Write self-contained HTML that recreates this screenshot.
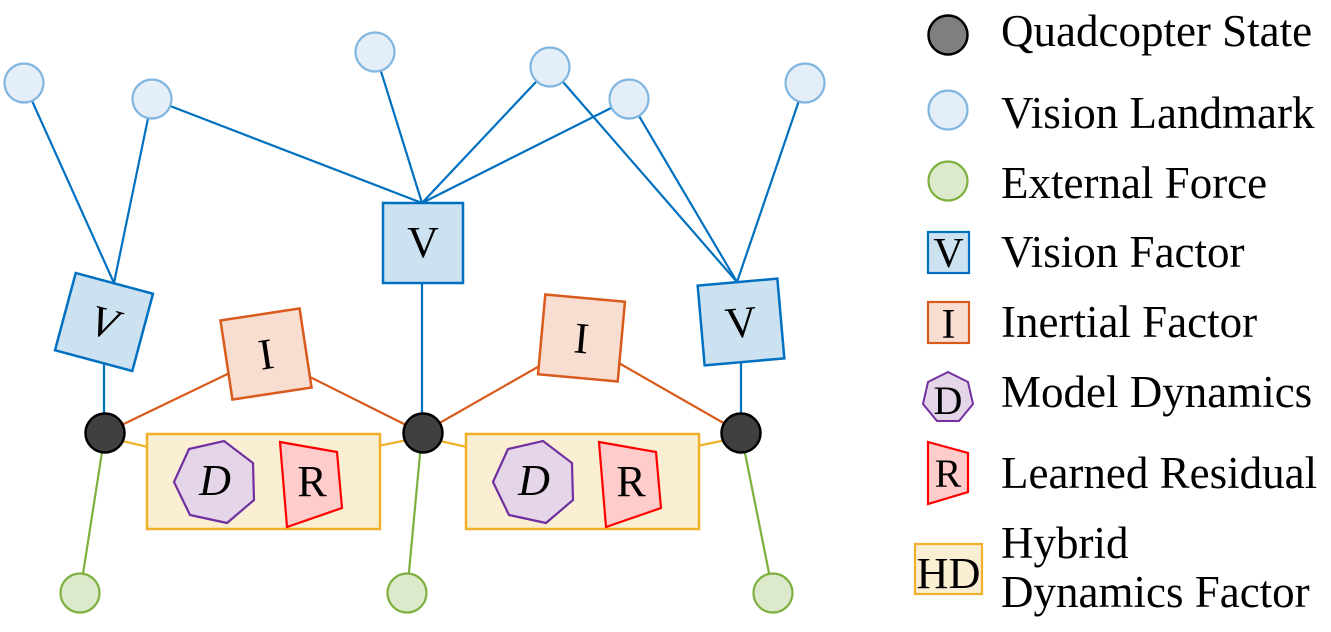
<!DOCTYPE html>
<html>
<head>
<meta charset="utf-8">
<style>
  html,body{margin:0;padding:0;background:#fff;}
  svg{display:block;font-family:"Liberation Serif","Times New Roman",Tinos,"Nimbus Roman","DejaVu Serif",serif;}
  svg text{font-family:"Liberation Serif","Times New Roman",Tinos,"Nimbus Roman","DejaVu Serif",serif;fill:#000;}
</style>
</head>
<body>
<svg width="1331" height="632" viewBox="0 0 1331 632" xmlns="http://www.w3.org/2000/svg" font-family="Liberation Serif, Times New Roman, DejaVu Serif, serif">
  <!-- Blue vision lines -->
  <g stroke="#0070c0" stroke-width="2.2" fill="none">
    <line x1="24" y1="83" x2="114" y2="283"/>
    <line x1="152" y1="99" x2="114" y2="283"/>
    <line x1="152" y1="99" x2="422" y2="203"/>
    <line x1="375" y1="52" x2="422" y2="203"/>
    <line x1="550" y1="67" x2="422" y2="203"/>
    <line x1="629" y1="99" x2="422" y2="203"/>
    <line x1="550" y1="67" x2="737" y2="282"/>
    <line x1="629" y1="99" x2="737" y2="282"/>
    <line x1="805" y1="83" x2="737" y2="282"/>
    <line x1="104" y1="360" x2="104" y2="433"/>
    <line x1="422" y1="283" x2="422" y2="433"/>
    <line x1="741" y1="360" x2="741" y2="433"/>
  </g>
  <!-- Orange inertial lines -->
  <g stroke="#d95a1d" stroke-width="2.2">
    <line x1="105" y1="433" x2="240" y2="368"/>
    <line x1="300" y1="372" x2="422" y2="433"/>
    <line x1="422" y1="433" x2="550" y2="360"/>
    <line x1="610" y1="358" x2="741" y2="433"/>
  </g>
  <!-- Yellow HD lines -->
  <g stroke="#f0b02a" stroke-width="2.2">
    <line x1="105" y1="437" x2="148" y2="447"/>
    <line x1="378" y1="446" x2="422" y2="437"/>
    <line x1="422" y1="437" x2="467" y2="447"/>
    <line x1="697" y1="446" x2="741" y2="437"/>
  </g>
  <!-- Green lines -->
  <g stroke="#7eb040" stroke-width="2.2">
    <line x1="105" y1="433" x2="80" y2="593"/>
    <line x1="422" y1="433" x2="407" y2="593"/>
    <line x1="741" y1="433" x2="773" y2="593"/>
  </g>

  <!-- Landmarks -->
  <g fill="#e3eef8" stroke="#80b6e0" stroke-width="2.2">
    <circle cx="24" cy="83" r="19.5"/>
    <circle cx="152" cy="99" r="19.5"/>
    <circle cx="375" cy="52" r="19.5"/>
    <circle cx="550" cy="67" r="19.5"/>
    <circle cx="629" cy="99" r="19.5"/>
    <circle cx="805" cy="83" r="19.5"/>
  </g>

  <!-- Vision factors -->
  <g transform="translate(104,322) rotate(15)">
    <rect x="-40" y="-40" width="80" height="80" fill="#cde2f1" stroke="#0070c0" stroke-width="2.5"/>
    <text x="0" y="15" font-size="44" font-style="italic" text-anchor="middle">V</text>
  </g>
  <g>
    <rect x="383" y="203" width="80" height="80" fill="#cde2f1" stroke="#0070c0" stroke-width="2.5"/>
    <text x="423" y="257" font-size="44" text-anchor="middle">V</text>
  </g>
  <g transform="translate(741,322) rotate(-5)">
    <rect x="-40" y="-40" width="80" height="80" fill="#cde2f1" stroke="#0070c0" stroke-width="2.5"/>
    <text x="0" y="15" font-size="44" text-anchor="middle">V</text>
  </g>

  <!-- Inertial factors -->
  <g transform="translate(266,354) rotate(-8.6)">
    <rect x="-40" y="-40" width="80" height="80" fill="#f8ddd1" stroke="#d95a1d" stroke-width="2.5"/>
    <text x="0" y="15" font-size="44" text-anchor="middle">I</text>
  </g>
  <g transform="translate(581.5,338) rotate(5.2)">
    <rect x="-40" y="-40" width="80" height="80" fill="#f8ddd1" stroke="#d95a1d" stroke-width="2.5"/>
    <text x="0" y="15" font-size="44" text-anchor="middle">I</text>
  </g>

  <!-- HD boxes -->
  <rect x="147" y="434" width="233" height="95" fill="#fbefd3" stroke="#f0b02a" stroke-width="2.5"/>
  <rect x="466" y="434" width="233" height="95" fill="#fbefd3" stroke="#f0b02a" stroke-width="2.5"/>

  <!-- Heptagons -->
  <polygon points="224,441 253,463 254,500 227,523 190,515 174,482 189,449" fill="#e4d5e8" stroke="#7030a0" stroke-width="2.2"/>
  <text x="215" y="495" font-size="44" font-style="italic" text-anchor="middle">D</text>
  <polygon points="543,441 572,463 573,500 546,523 509,515 493,482 508,449" fill="#e4d5e8" stroke="#7030a0" stroke-width="2.2"/>
  <text x="534" y="495" font-size="44" font-style="italic" text-anchor="middle">D</text>

  <!-- Residuals -->
  <polygon points="280,442 337,452 342,508 287,527" fill="#ffcccc" stroke="#ff0000" stroke-width="2.2"/>
  <text x="312" y="496" font-size="44" text-anchor="middle">R</text>
  <polygon points="599,442 656,452 661,508 606,527" fill="#ffcccc" stroke="#ff0000" stroke-width="2.2"/>
  <text x="631" y="496" font-size="44" text-anchor="middle">R</text>

  <!-- States -->
  <g fill="#404040" stroke="#000" stroke-width="2.5">
    <circle cx="105" cy="433" r="19.5"/>
    <circle cx="423" cy="433" r="19.5"/>
    <circle cx="741" cy="433" r="19.5"/>
  </g>

  <!-- External forces -->
  <g fill="#dde9cb" stroke="#7eb040" stroke-width="2.2">
    <circle cx="80" cy="593" r="19.5"/>
    <circle cx="407" cy="593" r="19.5"/>
    <circle cx="773" cy="593" r="19.5"/>
  </g>

  <!-- Legend -->
  <circle cx="948" cy="35" r="19.5" fill="#7f7f7f" stroke="#000" stroke-width="2.5"/>
  <circle cx="948" cy="110" r="19.5" fill="#e3eef8" stroke="#80b6e0" stroke-width="2.2"/>
  <circle cx="948" cy="181" r="19.5" fill="#dde9cb" stroke="#7eb040" stroke-width="2.2"/>
  <rect x="928" y="232" width="41" height="41" fill="#cde2f1" stroke="#0070c0" stroke-width="2.2"/>
  <text x="948.5" y="267" font-size="42" text-anchor="middle">V</text>
  <rect x="928" y="302" width="41" height="41" fill="#f8ddd1" stroke="#d95a1d" stroke-width="2.2"/>
  <text x="948.5" y="338" font-size="42" text-anchor="middle">I</text>
  <polygon points="948,372 968,382 973,404 959,421 937,421 923,404 928,382" fill="#e4d5e8" stroke="#7030a0" stroke-width="2"/>
  <text x="948" y="414" font-size="40" text-anchor="middle">D</text>
  <polygon points="928,442 968,453 968,492 928,504" fill="#ffcccc" stroke="#ff0000" stroke-width="2.2"/>
  <text x="948" y="487" font-size="40" text-anchor="middle">R</text>
  <rect x="915" y="544" width="67" height="50" fill="#fbefd3" stroke="#f0b02a" stroke-width="2.2"/>
  <text x="948.5" y="588" font-size="44" text-anchor="middle" textLength="64" lengthAdjust="spacingAndGlyphs">HD</text>

  <g font-size="45">
    <text x="1001" y="46">Quadcopter State</text>
    <text x="1001" y="128">Vision Landmark</text>
    <text x="1001" y="198">External Force</text>
    <text x="1001" y="267">Vision Factor</text>
    <text x="1001" y="337">Inertial Factor</text>
    <text x="1001" y="407">Model Dynamics</text>
    <text x="1001" y="488">Learned Residual</text>
    <text x="1001" y="558">Hybrid</text>
    <text x="1001" y="607">Dynamics Factor</text>
  </g>
</svg>
</body>
</html>
